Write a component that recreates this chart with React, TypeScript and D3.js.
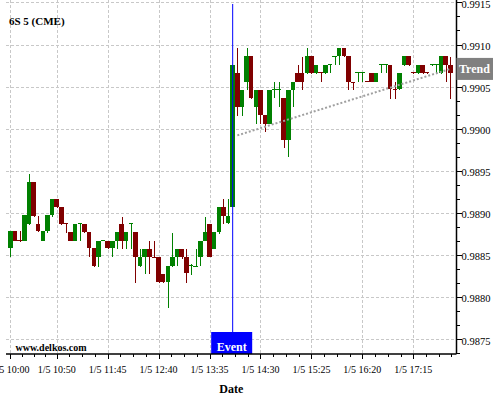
import React from 'react';
import * as d3 from 'd3';

const opens = [0.98858,0.98878,0.98868,0.98867,0.98887,0.98937,0.98887,0.98867,0.98878,0.98897,0.98916,0.98907,0.98888,0.98877,0.98867,0.98887,0.98887,0.98877,0.98858,0.98848,0.98867,0.98867,0.98858,0.98867,0.98887,0.98867,0.98887,0.98877,0.98837,0.98848,0.98857,0.98848,0.98848,0.98827,0.98818,0.98837,0.98847,0.98857,0.98847,0.98837,0.98836,0.98848,0.98867,0.98887,0.98857,0.98877,0.98907,0.98888,0.98907,0.99066,0.99026,0.99056,0.99086,0.99026,0.99046,0.99016,0.99006,0.99046,0.99046,0.99036,0.98987,0.99046,0.99066,0.99066,0.99066,0.99086,0.99066,0.99067,0.99066,0.99076,0.99085,0.99086,0.99096,0.99086,0.99056,0.99066,0.99066,0.99057,0.99066,0.99056,0.99076,0.99076,0.99076,0.99047,0.99047,0.99076,0.99086,0.99067,0.99066,0.99076,0.99067,0.99076,0.99076,0.99066,0.99086,0.99076];
const highs = [0.98878,0.98878,0.98878,0.98897,0.98946,0.98937,0.98896,0.98878,0.98897,0.98916,0.98916,0.98907,0.98888,0.98877,0.98887,0.98888,0.98887,0.98877,0.98858,0.98867,0.98868,0.98867,0.98867,0.98877,0.98895,0.98877,0.98888,0.98877,0.98857,0.98857,0.98867,0.98867,0.98848,0.98827,0.98837,0.98876,0.98857,0.98857,0.98857,0.98839,0.98857,0.98867,0.98895,0.98887,0.98877,0.98907,0.98916,0.98916,0.99076,0.99096,0.99046,0.99096,0.99086,0.99046,0.99046,0.99016,0.99046,0.99055,0.99055,0.99036,0.99046,0.99056,0.99076,0.99085,0.99096,0.99086,0.99076,0.99067,0.99076,0.99077,0.99086,0.99096,0.99096,0.99086,0.99056,0.99067,0.99067,0.99057,0.99066,0.99066,0.99077,0.99077,0.99076,0.99056,0.99066,0.99086,0.99086,0.99067,0.99076,0.99076,0.99067,0.99077,0.99077,0.99086,0.99086,0.99085];
const lows = [0.98848,0.98866,0.98865,0.98866,0.98886,0.98895,0.98877,0.98866,0.98876,0.98895,0.98906,0.98886,0.98876,0.98866,0.98866,0.98867,0.98876,0.98847,0.98836,0.98836,0.98867,0.98857,0.98847,0.98857,0.98857,0.98857,0.98857,0.98817,0.98836,0.98827,0.98827,0.98846,0.98817,0.98817,0.98787,0.98836,0.98837,0.98845,0.98817,0.98826,0.98836,0.98837,0.98866,0.98848,0.98857,0.98875,0.98887,0.98887,0.98907,0.99015,0.99015,0.99046,0.99035,0.99006,0.99006,0.98996,0.99005,0.99036,0.99026,0.98977,0.98966,0.99026,0.99055,0.99046,0.99065,0.99065,0.99065,0.99056,0.99065,0.99066,0.99076,0.99076,0.99085,0.99046,0.99046,0.99056,0.99056,0.99055,0.99055,0.99055,0.99066,0.99066,0.99035,0.99035,0.99046,0.99075,0.99075,0.99065,0.99065,0.99065,0.99065,0.99075,0.99066,0.99065,0.99055,0.99035];
const closes = [0.98878,0.98867,0.98867,0.98897,0.98937,0.98896,0.98878,0.98878,0.98897,0.98916,0.98907,0.98887,0.98887,0.98867,0.98887,0.98888,0.98877,0.98858,0.98837,0.98867,0.98868,0.98858,0.98867,0.98877,0.98867,0.98877,0.98888,0.98848,0.98848,0.98857,0.98848,0.98847,0.98818,0.98818,0.98837,0.98847,0.98857,0.98847,0.98828,0.98838,0.98837,0.98867,0.98877,0.98848,0.98877,0.98907,0.98896,0.98896,0.99076,0.99026,0.99046,0.99086,0.99036,0.99046,0.99016,0.99006,0.99046,0.99047,0.99047,0.98987,0.99046,0.99056,0.99056,0.99056,0.99086,0.99066,0.99076,0.99066,0.99076,0.99077,0.99086,0.99096,0.99086,0.99056,0.99055,0.99067,0.99067,0.99056,0.99056,0.99066,0.99077,0.99077,0.99047,0.99046,0.99066,0.99086,0.99076,0.99066,0.99076,0.99066,0.99066,0.99077,0.99077,0.99086,0.99076,0.99066];

const xTickBars = [0, 10, 21, 32, 43, 54, 65, 76, 87];
const xTickLabels = ['1/5 10:00', '1/5 10:50', '1/5 11:45', '1/5 12:40', '1/5 13:35', '1/5 14:30', '1/5 15:25', '1/5 16:20', '1/5 17:15'];
const yTickValues = [0.9875, 0.988, 0.9885, 0.989, 0.9895, 0.99, 0.9905, 0.991, 0.9915];

const eventBar = 48;
const trendBars = [49, 95];
const trendValues = [0.98992, 0.99071];

const title = '6S 5 (CME)';
const watermark = 'www.delkos.com';

const W = 500;
const H = 400;
const plotLeft = 6;
const plotRight = 456.5;
const plotTop = 0;
const plotBottom = 354;

const UP = '#008000';
const DOWN = '#800000';
const GRID = '#c8c8c8';
const FONT = '"Liberation Serif", "Times New Roman", serif';

export default function App() {
  const x = d3.scaleLinear().domain([-0.95, 96.33]).range([plotLeft, plotRight]);
  const y = d3.scaleLinear().domain([0.987322, 0.991529]).range([plotBottom, plotTop]);
  const step = x(1) - x(0);
  const bodyW = step * 0.97;

  const yMinor: number[] = [];
  for (let k = -1; k <= 24; k++) {
    const v = 0.9875 + (k * 0.0005) / 3;
    if (k % 3 !== 0 && y(v) <= plotBottom && y(v) >= plotTop) yMinor.push(v);
  }
  const xMinor: number[] = [];
  for (let j = 0; j < xTickBars.length; j++) {
    const a = xTickBars[j];
    const b = j + 1 < xTickBars.length ? xTickBars[j + 1] : a + 11;
    for (let q = 1; q < 4; q++) {
      const v = a + ((b - a) * q) / 4;
      if (x(v) < plotRight) xMinor.push(v);
    }
  }

  const trendLine = d3
    .line<number>()
    .x((d, i) => x(trendBars[i]))
    .y((d) => y(d));

  const ex = x(eventBar);
  const trendY = y(trendValues[1]);

  return (
    <svg width={W} height={H} style={{ position: 'absolute', left: 0, top: 0, background: '#fff' }} fontFamily={FONT}>
      <defs>
        <clipPath id="plot">
          <rect x={plotLeft} y={plotTop} width={plotRight - plotLeft} height={plotBottom - plotTop} />
        </clipPath>
      </defs>
      <rect x={0} y={0} width={W} height={H} fill="#fff" />
      {/* grid */}
      <g stroke={GRID} strokeWidth={1} strokeDasharray="3,2" shapeRendering="crispEdges">
        {yTickValues.map((v) => (
          <line key={'gy' + v} x1={plotLeft} x2={plotRight} y1={Math.round(y(v)) + 0.5} y2={Math.round(y(v)) + 0.5} />
        ))}
        {xTickBars.map((b) => (
          <line key={'gx' + b} x1={Math.round(x(b)) + 0.5} x2={Math.round(x(b)) + 0.5} y1={plotTop} y2={plotBottom} />
        ))}
      </g>
      <text x={9} y={25} fontSize={11} fontWeight="bold" fill="#000">{title}</text>
      {/* candles */}
      <g clipPath="url(#plot)" shapeRendering="crispEdges">
        {opens.map((o, i) => {
          const c = closes[i];
          const up = c >= o;
          const col = up ? UP : DOWN;
          const cx = x(i);
          const top = y(Math.max(o, c));
          const bot = y(Math.min(o, c));
          const h = Math.max(1, bot - top);
          return (
            <g key={i}>
              <line x1={Math.round(cx) + 0.5} x2={Math.round(cx) + 0.5} y1={y(highs[i])} y2={y(lows[i])} stroke={col} strokeWidth={1} />
              <rect x={cx - bodyW / 2} y={top} width={bodyW} height={h} fill={col} />
            </g>
          );
        })}
      </g>
      {/* trend */}
      <path d={trendLine(trendValues) || ''} fill="none" stroke="#a0a0a0" strokeWidth={2} strokeDasharray="2,2" />
      {/* event */}
      <line x1={ex} x2={ex} y1={4} y2={332} stroke="#0000ff" strokeWidth={1} />
      <rect x={ex - 21.5} y={332} width={41} height={plotBottom - 332} fill="#0000ff" />
      <text x={ex - 1} y={351} fontSize={12} fontWeight="bold" fill="#fff" textAnchor="middle">Event</text>
      <text x={15.5} y={351} fontSize={10} fontWeight="bold" fill="#000">{watermark}</text>
      {/* axes */}
      <line x1={plotRight} x2={plotRight} y1={0} y2={plotBottom} stroke="#000" strokeWidth={1.5} />
      <line x1={plotLeft} x2={plotRight} y1={plotBottom} y2={plotBottom} stroke="#000" strokeWidth={1.5} />
      <g stroke="#000" strokeWidth={1} shapeRendering="crispEdges">
        {yTickValues.map((v) => (
          <line key={'ty' + v} x1={plotRight} x2={plotRight + 5} y1={Math.round(y(v)) + 0.5} y2={Math.round(y(v)) + 0.5} />
        ))}
        {yMinor.map((v) => (
          <line key={'tym' + v} x1={plotRight} x2={plotRight + 3} y1={Math.round(y(v)) + 0.5} y2={Math.round(y(v)) + 0.5} />
        ))}
        {xTickBars.map((b) => (
          <line key={'tx' + b} x1={Math.round(x(b)) + 0.5} x2={Math.round(x(b)) + 0.5} y1={plotBottom} y2={plotBottom + 5} />
        ))}
        {xMinor.map((b) => (
          <line key={'txm' + b} x1={Math.round(x(b)) + 0.5} x2={Math.round(x(b)) + 0.5} y1={plotBottom} y2={plotBottom + 3} />
        ))}
      </g>
      {yTickValues.map((v) => (
        <text key={'ly' + v} x={plotRight + 5} y={y(v) + 5.5} fontSize={10.5} fill="#000">{d3.format('.4f')(v)}</text>
      ))}
      {xTickBars.map((b, j) => (
        <text key={'lx' + b} x={x(b)} y={373} fontSize={10} fill="#000" textAnchor="middle">{xTickLabels[j]}</text>
      ))}
      <text x={(plotLeft + plotRight) / 2} y={393} fontSize={12} fontWeight="bold" fill="#000" textAnchor="middle">Date</text>
      {/* trend label */}
      <rect x={plotRight} y={trendY - 11} width={36.5} height={22} fill="#808080" />
      <text x={plotRight + 2.5} y={trendY + 4.5} fontSize={12} fontWeight="bold" fill="#fff">Trend</text>
    </svg>
  );
}
